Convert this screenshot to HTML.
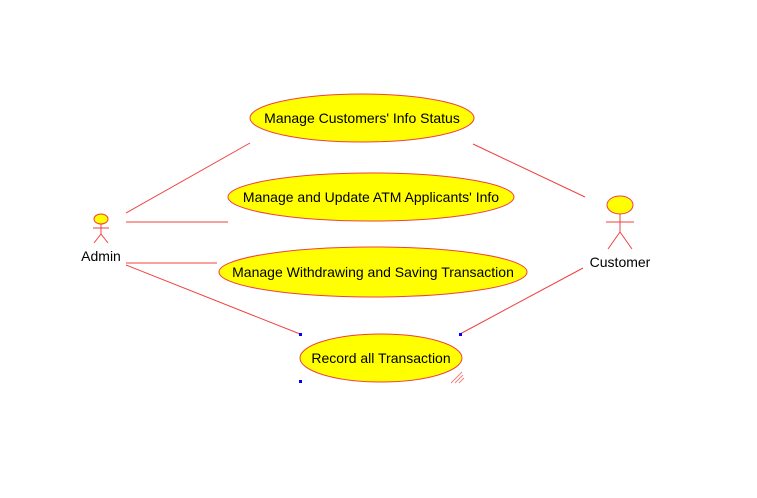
<!DOCTYPE html>
<html><head><style>
html,body{margin:0;padding:0;background:#fff;width:757px;height:498px;overflow:hidden}
svg{display:block}
text{font-family:"Liberation Sans",sans-serif;font-size:14px;fill:#000;text-anchor:middle}
</style></head><body>
<svg width="757" height="498" xmlns="http://www.w3.org/2000/svg">
<g stroke="#f04040" stroke-width="1" fill="none">
<line x1="126" y1="213" x2="250" y2="143"/>
<line x1="126" y1="222" x2="228" y2="222"/>
<line x1="126" y1="263" x2="217" y2="263"/>
<line x1="126" y1="265" x2="300" y2="334"/>
<line x1="473" y1="144" x2="585" y2="197"/>
<line x1="583" y1="268" x2="460" y2="334"/>
</g>
<g fill="#ffff00" stroke="#f04040" stroke-width="1">
<ellipse cx="362" cy="118" rx="112" ry="24"/>
<ellipse cx="371" cy="197" rx="143" ry="24"/>
<ellipse cx="373" cy="272" rx="154" ry="25"/>
<ellipse cx="381" cy="358" rx="81" ry="24"/>
</g>
<text x="362" y="123">Manage Customers' Info Status</text>
<text x="371" y="202">Manage and Update ATM Applicants' Info</text>
<text x="373" y="277">Manage Withdrawing and Saving Transaction</text>
<text x="381" y="363">Record all Transaction</text>
<ellipse cx="101" cy="219" rx="7" ry="5" fill="#ffff00" stroke="#f04040"/>
<g stroke="#f04040" fill="none">
<line x1="101" y1="224" x2="101" y2="234"/>
<line x1="93" y1="228" x2="109" y2="228"/>
<line x1="101" y1="234" x2="94" y2="243"/>
<line x1="101" y1="234" x2="108" y2="243"/>
</g>
<text x="101" y="261">Admin</text>
<ellipse cx="620" cy="205" rx="13" ry="9" fill="#ffff00" stroke="#f04040"/>
<g stroke="#f04040" fill="none">
<line x1="620" y1="214" x2="620" y2="232"/>
<line x1="606" y1="222" x2="634" y2="222"/>
<line x1="620" y1="232" x2="608" y2="249"/>
<line x1="620" y1="232" x2="632" y2="249"/>
</g>
<text x="620" y="267">Customer</text>
<g fill="#0000ff">
<rect x="299" y="333" width="3" height="3"/>
<rect x="459" y="333" width="3" height="3"/>
<rect x="299" y="380" width="3" height="3"/>
</g>
<g stroke="#f08080" stroke-width="1">
<line x1="451" y1="383" x2="462" y2="372"/>
<line x1="455" y1="383" x2="463" y2="375"/>
<line x1="459" y1="383" x2="464" y2="378"/>
</g>
</svg>
</body></html>
